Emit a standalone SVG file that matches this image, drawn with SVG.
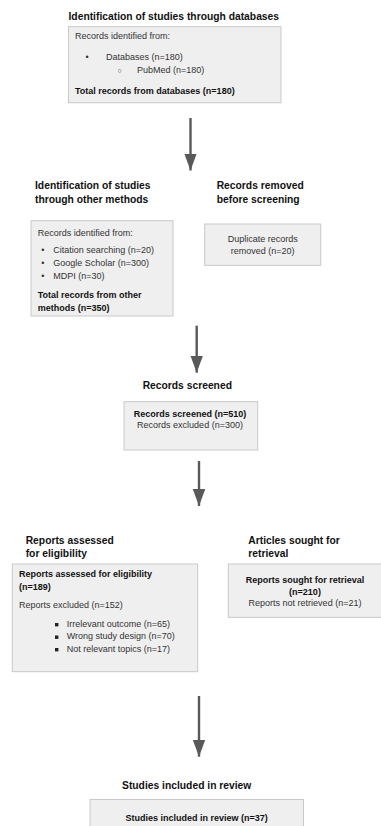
<svg xmlns="http://www.w3.org/2000/svg" width="381" height="826" viewBox="0 0 381 826">
<style>
text{font-family:"Liberation Sans",Arial,sans-serif;font-size:9px;fill:#333}
.h{font-size:10.3px;font-weight:bold;fill:#111}
.b{font-weight:bold;fill:#111}
.c{text-anchor:middle}
.box{fill:#efefef;stroke:#c9c9c9;stroke-width:1}
.arrow{stroke:#595959;stroke-width:2.4;fill:none}
</style>
<defs>
<marker id="ah" markerUnits="userSpaceOnUse" markerWidth="18" markerHeight="13" refX="17" refY="6.25" orient="auto">
<path d="M0,0 L17,6.25 L0,12.5 z" fill="#595959"/>
</marker>
</defs>
<rect width="381" height="826" fill="#fff"/>

<g id="db">
<text class="h" x="68.5" y="20">Identification of studies through databases</text>
<rect class="box" x="68.5" y="26.7" width="212.5" height="76"/>
<text x="75" y="38.5">Records identified from:</text>
<text x="85.5" y="60">•</text>
<text x="106" y="60">Databases (n=180)</text>
<text x="117.5" y="72.7" style="font-size:7px">○</text>
<text x="137" y="72.7">PubMed (n=180)</text>
<text class="b" x="75" y="94.3">Total records from databases (n=180)</text>
</g>

<g id="other">
<text class="h" x="35" y="189.3">Identification of studies</text>
<text class="h" x="35" y="202.7">through other methods</text>
<rect class="box" x="31" y="220.7" width="142" height="95.3"/>
<text x="37.7" y="236">Records identified from:</text>
<text x="41.3" y="253.3">•</text>
<text x="53.3" y="253.3">Citation searching (n=20)</text>
<text x="41.3" y="266">•</text>
<text x="53.3" y="266">Google Scholar (n=300)</text>
<text x="41.3" y="279.3">•</text>
<text x="53.3" y="279.3">MDPI (n=30)</text>
<text class="b" x="37.7" y="298.3">Total records from other</text>
<text class="b" x="37.7" y="311">methods (n=350)</text>
</g>

<g id="removed">
<text class="h" x="216.7" y="189.3">Records removed</text>
<text class="h" x="216.7" y="202.7">before screening</text>
<rect class="box" x="204.7" y="224" width="116" height="41.3"/>
<text class="c" x="262.7" y="242.3">Duplicate records</text>
<text class="c" x="262.7" y="253.5">removed (n=20)</text>
</g>

<g id="screened">
<text class="h c" x="187.3" y="389.3">Records screened</text>
<rect class="box" x="124" y="401.7" width="133.7" height="48.3"/>
<text class="b c" x="190" y="416.7">Records screened (n=510)</text>
<text class="c" x="190" y="428.3">Records excluded (n=300)</text>
</g>

<g id="assessed">
<text class="h" x="25.7" y="543.5">Reports assessed</text>
<text class="h" x="25.7" y="556.5">for eligibility</text>
<rect class="box" x="12.3" y="564" width="185.4" height="107.7"/>
<text class="b" x="19" y="576.5">Reports assessed for eligibility</text>
<text class="b" x="19" y="589.5">(n=189)</text>
<text x="19" y="608">Reports excluded (n=152)</text>
<rect x="55" y="623" width="3.4" height="3.4" fill="#222"/>
<text x="66.7" y="626.5">Irrelevant outcome (n=65)</text>
<rect x="55" y="635.5" width="3.4" height="3.4" fill="#222"/>
<text x="66.7" y="639">Wrong study design (n=70)</text>
<rect x="55" y="648" width="3.4" height="3.4" fill="#222"/>
<text x="66.7" y="651.5">Not relevant topics (n=17)</text>
</g>

<g id="sought">
<text class="h" x="248.3" y="543.5">Articles sought for</text>
<text class="h" x="248.3" y="556.5">retrieval</text>
<rect class="box" x="228.3" y="564" width="154" height="53.3"/>
<text class="b c" x="305" y="583.3">Reports sought for retrieval</text>
<text class="b c" x="305" y="595">(n=210)</text>
<text class="c" x="305" y="605.7">Reports not retrieved (n=21)</text>
</g>

<g id="included">
<text class="h c" x="186.7" y="788.5">Studies included in review</text>
<rect class="box" x="90" y="799.5" width="213.5" height="40"/>
<text class="b c" x="196.7" y="821">Studies included in review (n=37)</text>
</g>

<g id="connectors">
<line class="arrow" x1="190.5" y1="118" x2="190.5" y2="170.5" marker-end="url(#ah)"/>
<line class="arrow" x1="196.7" y1="325.7" x2="196.7" y2="372.7" marker-end="url(#ah)"/>
<line class="arrow" x1="199" y1="461" x2="199" y2="506" marker-end="url(#ah)"/>
<line class="arrow" x1="199" y1="696" x2="199" y2="756.7" marker-end="url(#ah)"/>
</g>
</svg>
